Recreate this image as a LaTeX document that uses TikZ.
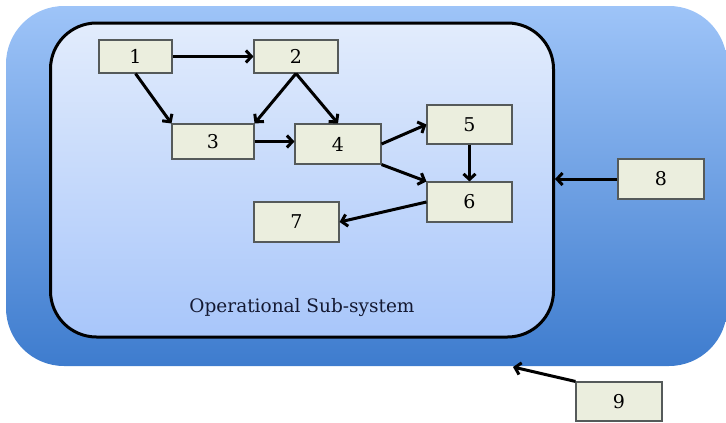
\documentclass[tikz,border=0pt]{standalone}
\usepackage{fontspec}
\setmainfont{DejaVu Serif}
\usetikzlibrary{arrows.meta,calc}
\definecolor{outertop}{RGB}{158,196,248}
\definecolor{outerbot}{RGB}{62,124,206}
\definecolor{innertop}{RGB}{226,236,252}
\definecolor{innerbot}{RGB}{168,198,250}
\definecolor{boxfill}{RGB}{235,238,222}
\definecolor{boxline}{RGB}{85,90,90}
\definecolor{lbltext}{RGB}{20,25,50}
\tikzset{
  stepbox/.style={draw=boxline, line width=1.1pt, fill=boxfill, inner sep=0pt,
    font=\fontsize{19}{19}\selectfont, text=black},
  flow/.style={line width=3pt, -{Straight Barb[length=5.5pt,width=12pt]}},
}
\begin{document}
\begin{tikzpicture}[x=1pt,y=-1pt]
\useasboundingbox (0,0) rectangle (726,423);
\node[rounded corners=58pt, top color=outertop, bottom color=outerbot,
  minimum width=721pt, minimum height=360pt, inner sep=0pt] (outer) at (366.5,186) {};
\node[draw=black, line width=3pt, rounded corners=46pt, top color=innertop, bottom color=innerbot,
  minimum width=503pt, minimum height=314pt, inner sep=0pt] (inner) at (302,180) {};
\node[font=\fontsize{18.5}{18.5}\selectfont, text=lbltext] (lbl) at (302,308) {Operational Sub-system};

\node[stepbox, minimum width=73pt, minimum height=33pt] (n1) at (135.5,56.5) {1};
\node[stepbox, minimum width=84pt, minimum height=33pt] (n2) at (296,56.5) {2};
\node[stepbox, minimum width=82pt, minimum height=35pt] (n3) at (213,141.5) {3};
\node[stepbox, minimum width=86pt, minimum height=40pt] (n4) at (338,144) {4};
\node[stepbox, minimum width=85pt, minimum height=39pt] (n5) at (469.5,124.5) {5};
\node[stepbox, minimum width=85pt, minimum height=40pt] (n6) at (469.5,202) {6};
\node[stepbox, minimum width=85pt, minimum height=40pt] (n7) at (296.5,222) {7};
\node[stepbox, minimum width=86pt, minimum height=40pt] (n8) at (661,179) {8};
\node[stepbox, minimum width=86pt, minimum height=39pt] (n9) at (619,401.5) {9};
\coordinate (o9) at (513,367);

\draw[flow] (n1.east) -- (n2.west);
\draw[flow] (n1.south) -- (n3.north west);
\draw[flow] (n2.south) -- (n3.north east);
\draw[flow] (n2.south) -- (n4.north);
\draw[flow] (n3.east) -- (n3.east -| n4.west);
\draw[flow] (n4.east) -- (n5.west);
\draw[flow] (n4.south east) -- (n6.north west);
\draw[flow] (n5.south) -- (n6.north);
\draw[flow] (n6.west) -- (n7.east);
\draw[flow] (n8.west) -- (n8.west -| inner.east);
\draw[flow] (n9.north west) -- (o9);
\end{tikzpicture}
\end{document}
